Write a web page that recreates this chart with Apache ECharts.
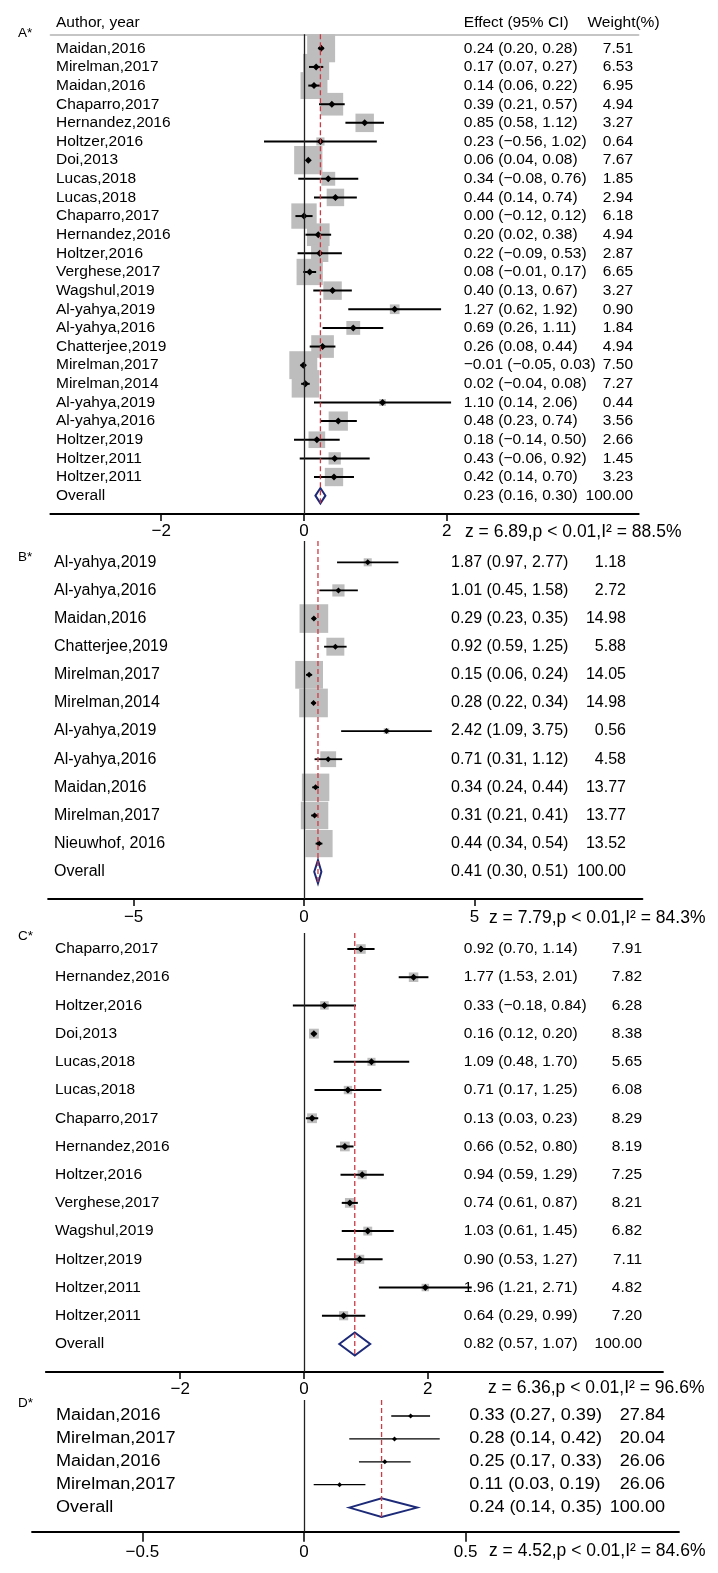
<!DOCTYPE html>
<html>
<head>
<meta charset="utf-8">
<script src="https://cdn.jsdelivr.net/npm/echarts@6/dist/echarts.min.js"></script>
<style>
html,body{margin:0;padding:0;background:#fff;}
#chart{width:718px;height:1573px;}
</style>
</head>
<body>
<div id="chart"></div>
<script>
// ================= DATA =================
const aAuthors = ['Maidan,2016','Mirelman,2017','Maidan,2016','Chaparro,2017','Hernandez,2016','Holtzer,2016','Doi,2013','Lucas,2018','Lucas,2018','Chaparro,2017','Hernandez,2016','Holtzer,2016','Verghese,2017','Wagshul,2019','Al-yahya,2019','Al-yahya,2016','Chatterjee,2019','Mirelman,2017','Mirelman,2014','Al-yahya,2019','Al-yahya,2016','Holtzer,2019','Holtzer,2011','Holtzer,2011'];
const aEst    = [0.24,0.17,0.14,0.39,0.85,0.23,0.06,0.34,0.44,0.00,0.20,0.22,0.08,0.40,1.27,0.69,0.26,-0.01,0.02,1.10,0.48,0.18,0.43,0.42];
const aLo     = [0.20,0.07,0.06,0.21,0.58,-0.56,0.04,-0.08,0.14,-0.12,0.02,-0.09,-0.01,0.13,0.62,0.26,0.08,-0.05,-0.04,0.14,0.23,-0.14,-0.06,0.14];
const aHi     = [0.28,0.27,0.22,0.57,1.12,1.02,0.08,0.76,0.74,0.12,0.38,0.53,0.17,0.67,1.92,1.11,0.44,0.03,0.08,2.06,0.74,0.50,0.92,0.70];
const aWeight = [7.51,6.53,6.95,4.94,3.27,0.64,7.67,1.85,2.94,6.18,4.94,2.87,6.65,3.27,0.90,1.84,4.94,7.50,7.27,0.44,3.56,2.66,1.45,3.23];
const aOverall = [0.23,0.16,0.30];
const aStat = 'z = 6.89,p < 0.01,I\u00B2 = 88.5%';
const aTicks = [-2,0,2];

const bAuthors = ['Al-yahya,2019','Al-yahya,2016','Maidan,2016','Chatterjee,2019','Mirelman,2017','Mirelman,2014','Al-yahya,2019','Al-yahya,2016','Maidan,2016','Mirelman,2017','Nieuwhof, 2016'];
const bEst    = [1.87,1.01,0.29,0.92,0.15,0.28,2.42,0.71,0.34,0.31,0.44];
const bLo     = [0.97,0.45,0.23,0.59,0.06,0.22,1.09,0.31,0.24,0.21,0.34];
const bHi     = [2.77,1.58,0.35,1.25,0.24,0.34,3.75,1.12,0.44,0.41,0.54];
const bWeight = [1.18,2.72,14.98,5.88,14.05,14.98,0.56,4.58,13.77,13.77,13.52];
const bOverall = [0.41,0.30,0.51];
const bStat = 'z = 7.79,p < 0.01,I\u00B2 = 84.3%';
const bTicks = [-5,0,5];

const cAuthors = ['Chaparro,2017','Hernandez,2016','Holtzer,2016','Doi,2013','Lucas,2018','Lucas,2018','Chaparro,2017','Hernandez,2016','Holtzer,2016','Verghese,2017','Wagshul,2019','Holtzer,2019','Holtzer,2011','Holtzer,2011'];
const cEst    = [0.92,1.77,0.33,0.16,1.09,0.71,0.13,0.66,0.94,0.74,1.03,0.90,1.96,0.64];
const cLo     = [0.70,1.53,-0.18,0.12,0.48,0.17,0.03,0.52,0.59,0.61,0.61,0.53,1.21,0.29];
const cHi     = [1.14,2.01,0.84,0.20,1.70,1.25,0.23,0.80,1.29,0.87,1.45,1.27,2.71,0.99];
const cWeight = [7.91,7.82,6.28,8.38,5.65,6.08,8.29,8.19,7.25,8.21,6.82,7.11,4.82,7.20];
const cOverall = [0.82,0.57,1.07];
const cStat = 'z = 6.36,p < 0.01,I\u00B2 = 96.6%';
const cTicks = [-2,0,2];

const dAuthors = ['Maidan,2016','Mirelman,2017','Maidan,2016','Mirelman,2017'];
const dEst    = [0.33,0.28,0.25,0.11];
const dLo     = [0.27,0.14,0.17,0.03];
const dHi     = [0.39,0.42,0.33,0.19];
const dWeight = [27.84,20.04,26.06,26.06];
const dOverall = [0.24,0.14,0.35];
const dStat = 'z = 4.52,p < 0.01,I\u00B2 = 84.6%';
const dTicks = [-0.5,0,0.5];

const overallLabel = 'Overall';
const overallWeight = 100;
const headerLabels = ['Author, year','Effect (95% CI)','Weight(%)'];
const panelLabels = ['A*','B*','C*','D*'];

// ================= LAYOUT / STYLE =================
const FONT = "'Liberation Sans', Arial, Helvetica, sans-serif";
const layouts = [
  {gridTop:34.3, axisY:514,   x0:50.4, x1:638.7, zeroX:304, unit:71.4,  row0:48.3, step:18.64, nameX:56, effX:463.8, wRight:633, statX:465, statY:531.7, labelY:33,   fs:15.5, sx:1,    box:10.2, marker:7, ciW:2,   axisW:2,   tickLen:7,  labelMargin:9},
  {gridTop:541,  axisY:899,   x0:48.1, x1:642.4, zeroX:304, unit:34.08, row0:562.3,step:28.13, nameX:54, effX:451,   wRight:626, statX:489, statY:918,   labelY:557.3,fs:16,   sx:1,    box:7.4,  marker:6, ciW:1.8, axisW:2,   tickLen:7,  labelMargin:10},
  {gridTop:933,  axisY:1372,  x0:45.8, x1:663,   zeroX:304, unit:61.9,  row0:949,  step:28.21, nameX:55, effX:463.8, wRight:642, statX:488, statY:1388,  labelY:936.7,fs:15.5, sx:1,    box:3.4,  marker:7, ciW:2,   axisW:1.8, tickLen:7,  labelMargin:9},
  {gridTop:1400, axisY:1531.7,x0:32,   x1:679,   zeroX:304, unit:323.2, row0:1416, step:22.9,  nameX:56, effX:469.3, wRight:665, statX:489, statY:1551,  labelY:1403.3,fs:16,  sx:1.13, box:0,    marker:5, ciW:1.3, axisW:1.8, tickLen:10, labelMargin:12}
];

const panels = [
  {authors:aAuthors, est:aEst, lo:aLo, hi:aHi, weight:aWeight, overall:aOverall, stat:aStat, ticks:aTicks},
  {authors:bAuthors, est:bEst, lo:bLo, hi:bHi, weight:bWeight, overall:bOverall, stat:bStat, ticks:bTicks},
  {authors:cAuthors, est:cEst, lo:cLo, hi:cHi, weight:cWeight, overall:cOverall, stat:cStat, ticks:cTicks},
  {authors:dAuthors, est:dEst, lo:dLo, hi:dHi, weight:dWeight, overall:dOverall, stat:dStat, ticks:dTicks}
];

// ================= BUILD =================
function fmt(v){ return (v < 0 ? '\u2212' : '') + Math.abs(v).toFixed(2); }
function tickFmt(v){ return v < 0 ? '\u2212' + Math.abs(v) : String(v); }

const grids = [], xAxes = [], yAxes = [], series = [], graphics = [];

panels.forEach(function(P, k){
  const L = layouts[k];
  const n = P.authors.length;
  const xmin = (L.x0 - L.zeroX) / L.unit;
  const xmax = (L.x1 - L.zeroX) / L.unit;
  const ymin = (L.gridTop - L.row0) / L.step;
  const ymax = (L.axisY - L.row0) / L.step;

  grids.push({left:L.x0, top:L.gridTop, width:L.x1 - L.x0, height:L.axisY - L.gridTop, containLabel:false});
  xAxes.push({
    gridIndex:k, type:'value', min:xmin, max:xmax, position:'bottom',
    axisLine:{show:true, onZero:false, lineStyle:{color:'#000', width:L.axisW}},
    axisTick:{show:true, customValues:P.ticks, length:L.tickLen, lineStyle:{color:'#000', width:1.5}},
    axisLabel:{show:true, customValues:P.ticks, formatter:tickFmt, margin:L.labelMargin, fontSize:17, fontFamily:FONT, color:'#000'},
    splitLine:{show:false}
  });
  yAxes.push({gridIndex:k, type:'value', inverse:true, min:ymin, max:ymax, show:false, splitLine:{show:false}});

  // rows: studies + overall
  const rows = [];
  const names = [], effs = [], wts = [];
  for (let i = 0; i < n; i++) {
    rows.push([P.est[i], P.lo[i], P.hi[i], P.weight[i], i, 0]);
    names.push(P.authors[i]);
    effs.push(fmt(P.est[i]) + ' (' + fmt(P.lo[i]) + ', ' + fmt(P.hi[i]) + ')');
    wts.push(P.weight[i].toFixed(2));
  }
  rows.push([P.overall[0], P.overall[1], P.overall[2], overallWeight, n, 1]);
  names.push(overallLabel);
  effs.push(fmt(P.overall[0]) + ' (' + fmt(P.overall[1]) + ', ' + fmt(P.overall[2]) + ')');
  wts.push(overallWeight.toFixed(2));

  // marks
  series.push({
    type:'custom', xAxisIndex:k, yAxisIndex:k, z:2, silent:true,
    encode:{x:0, y:4},
    data:rows,
    renderItem:function(params, api){
      const est = api.value(0), lo = api.value(1), hi = api.value(2), w = api.value(3), row = api.value(4), ov = api.value(5);
      const c = api.coord([est, row]);
      const pl = api.coord([lo, row]);
      const ph = api.coord([hi, row]);
      const rowPx = api.size([0, 1])[1];
      const children = [];
      if (ov) {
        const h = rowPx * 0.41;
        children.push({type:'polygon', shape:{points:[[pl[0], c[1]], [c[0], c[1] - h], [ph[0], c[1]], [c[0], c[1] + h]]},
          style:{fill:'#fff', stroke:'#1c2a78', lineWidth:2}});
      } else {
        const s = L.box * Math.sqrt(w);
        if (s > 0) children.push({type:'rect', shape:{x:c[0] - s/2, y:c[1] - s/2, width:s, height:s}, style:{fill:'#bdbdbd'}});
        children.push({type:'line', shape:{x1:pl[0], y1:c[1], x2:ph[0], y2:c[1]}, style:{stroke:'#000', lineWidth:L.ciW}});
        const m = L.marker / 2;
        children.push({type:'polygon', shape:{points:[[c[0] - m, c[1]], [c[0], c[1] - m], [c[0] + m, c[1]], [c[0], c[1] + m]]}, style:{fill:'#000'}});
      }
      return {type:'group', children:children};
    },
    markLine:{silent:true, symbol:'none', label:{show:false}, z:5,
      lineStyle:{color:'#222', width:1.3, type:'solid'},
      data:[{xAxis:0}]}
  });

  // pooled estimate dashed line
  series.push({
    type:'line', xAxisIndex:k, yAxisIndex:k, z:4, silent:true, symbol:'none',
    lineStyle:{color:'#cc3b45', width:1.3, type:[5,3]},
    data:[[P.overall[0], ymin], [P.overall[0], n + 0.41]]
  });

  // texts
  series.push({
    type:'custom', xAxisIndex:k, yAxisIndex:k, z:6, silent:true,
    encode:{x:0, y:4},
    data:rows,
    renderItem:function(params, api){
      const i = params.dataIndex;
      const y = api.coord([0, api.value(4)])[1];
      const base = {fontSize:L.fs, fontFamily:FONT, fill:'#000', verticalAlign:'middle'};
      return {type:'group', children:[
        {type:'text', x:L.nameX, y:y, scaleX:L.sx, style:Object.assign({}, base, {text:names[i], align:'left'})},
        {type:'text', x:L.effX,  y:y, scaleX:L.sx, style:Object.assign({}, base, {text:effs[i], align:'left'})},
        {type:'text', x:L.wRight, y:y, scaleX:L.sx, style:Object.assign({}, base, {text:wts[i], align:'right'})}
      ]};
    }
  });

  // panel label and stats
  graphics.push({type:'text', x:18, y:L.labelY, style:{text:panelLabels[k], fontSize:13.5, fontFamily:FONT, fill:'#000', verticalAlign:'middle', align:'left'}});
  graphics.push({type:'text', x:L.statX, y:L.statY, style:{text:P.stat, fontSize:17.5, fontFamily:FONT, fill:'#000', verticalAlign:'middle', align:'left'}});
});

// header line for panel A (top axis)
xAxes.push({gridIndex:0, type:'value', min:xAxes[0].min, max:xAxes[0].max, position:'top',
  axisLine:{show:true, onZero:false, lineStyle:{color:'#b3b3b3', width:1.5}},
  axisTick:{show:false}, axisLabel:{show:false}, splitLine:{show:false}});

// header labels
const hdrX = [56, 463.8, 587.5];
headerLabels.forEach(function(t, j){
  graphics.push({type:'text', x:hdrX[j], y:23, style:{text:t, fontSize:15.5, fontFamily:FONT, fill:'#000', verticalAlign:'middle', align:'left'}});
});

const chart = echarts.init(document.getElementById('chart'), null, {renderer:'canvas'});
chart.setOption({
  backgroundColor:'#fff',
  animation:false,
  grid:grids,
  xAxis:xAxes,
  yAxis:yAxes,
  series:series,
  graphic:graphics
});
</script>
</body>
</html>
